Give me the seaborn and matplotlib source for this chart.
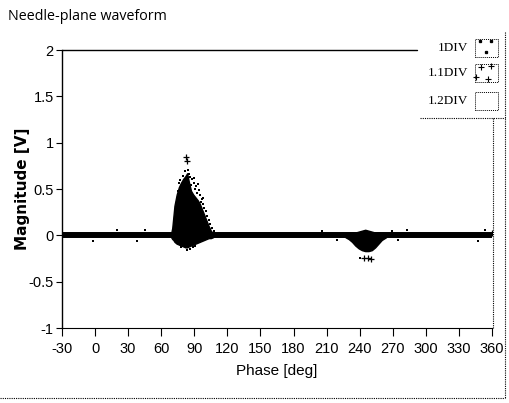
import matplotlib
matplotlib.use("Agg")
import matplotlib.pyplot as plt
import seaborn as sns
import numpy as np
import pandas as pd
from matplotlib.lines import Line2D
from matplotlib.patches import Rectangle

sns.set_theme(style="white")
plt.rcParams['font.family'] = ['Liberation Sans', 'DejaVu Sans']

# ---- data ----
x_ticks = [-30, 0, 30, 60, 90, 120, 150, 180, 210, 240, 270, 300, 330, 360]
y_ticks = [-1, -0.5, 0, 0.5, 1, 1.5, 2]
y_tick_labels = ["-1", "-0.5", "0", "0.5", "1", "1.5", "2"]
series_names = ["1DIV", "1.1DIV", "1.2DIV"]

# baseline (dense band of near-zero samples)
baseline_phase = [-30, 360]
baseline_mag = [0.0, 0.0]

# positive discharge cloud envelope (dense core)
cloud1_phase = [69, 70, 71, 72, 74, 76, 78, 80, 82, 83.5, 85, 87, 89, 91, 93, 95, 97, 99, 101, 103, 105, 107]
cloud1_upper = [0.02, 0.08, 0.2, 0.32, 0.44, 0.52, 0.57, 0.61, 0.64, 0.67, 0.58, 0.48, 0.44, 0.41, 0.38, 0.34, 0.28, 0.22, 0.16, 0.10, 0.05, 0.02]
cloud1_lower = [-0.02, -0.04, -0.05, -0.07, -0.09, -0.10, -0.11, -0.12, -0.13, -0.13, -0.12, -0.11, -0.10, -0.09, -0.08, -0.07, -0.06, -0.05, -0.04, -0.03, -0.03, -0.02]

# negative discharge cloud envelope
cloud2_phase = [227, 230, 233, 236, 239, 242, 245, 248, 251, 254, 257, 260, 264]
cloud2_upper = [0.02, 0.03, 0.03, 0.03, 0.04, 0.05, 0.06, 0.05, 0.04, 0.03, 0.03, 0.03, 0.02]
cloud2_lower = [-0.02, -0.04, -0.07, -0.11, -0.14, -0.16, -0.17, -0.17, -0.16, -0.13, -0.09, -0.05, -0.02]

# sparse dots (1DIV)
dots_phase = [86.5, 88.2, 87.1, 89.6, 90.8, 91.9, 92.7, 94.1, 95.3, 93.4, 96.6, 97.8, 99.2, 100.4,
              101.7, 103.1, 104.6, 106.2, 108.1, 98.3, 95.9, 89.9, 85.4, 84.2, 81.3, 79.6, 77.4,
              76.1, 74.8, 86.0, 88.8, 78.2, 83.0, 90.2,
              -2, 20, 38, 45, 206, 219, 269, 275, 283, 347, 354, 240]
dots_mag = [0.63, 0.61, 0.54, 0.57, 0.50, 0.53, 0.46, 0.49, 0.43, 0.55, 0.39, 0.34, 0.30, 0.26,
            0.21, 0.17, 0.12, 0.08, 0.05, 0.40, 0.36, 0.62, 0.66, 0.71, 0.69, 0.64, 0.60,
            0.56, 0.48, -0.15, -0.13, -0.13, -0.16, -0.12,
            -0.06, 0.06, -0.06, 0.06, 0.05, -0.05, 0.05, -0.05, 0.06, -0.06, 0.06, -0.24]

# sparse crosses (1.1DIV)
cross_phase = [82.5, 83.0, 244, 247.5, 250, 360]
cross_mag = [0.85, 0.80, -0.24, -0.24, -0.25, 0.02]

# ---- figure ----
fig = plt.figure(figsize=(5.09, 4.03), dpi=100)
ax = fig.add_axes([62/509, 1-328/403, 430/509, 278/403])
ax.set_xlim(-30, 360)
ax.set_ylim(-1, 2)

df_base = pd.DataFrame({"phase": baseline_phase, "mag": baseline_mag})
sns.lineplot(data=df_base, x="phase", y="mag", ax=ax, color="black", lw=4.3, zorder=3)

ax.fill_between(cloud1_phase, cloud1_lower, cloud1_upper, color="black", lw=1.0, edgecolor="black", zorder=4)
ax.fill_between(cloud2_phase, cloud2_lower, cloud2_upper, color="black", lw=1.0, edgecolor="black", zorder=4)

df_dots = pd.DataFrame({"phase": dots_phase, "mag": dots_mag})
sns.scatterplot(data=df_dots, x="phase", y="mag", ax=ax, color="black", marker="s", s=3.5, linewidth=0, zorder=5)
df_cross = pd.DataFrame({"phase": cross_phase, "mag": cross_mag})
sns.scatterplot(data=df_cross, x="phase", y="mag", ax=ax, color="black", marker="+", s=16, linewidth=0.9, zorder=5)

ax.set_xticks(x_ticks)
ax.set_xticklabels([str(t) for t in x_ticks], fontsize=10.5)
ax.set_yticks(y_ticks)
ax.set_yticklabels(y_tick_labels, fontsize=10.5)
ax.tick_params(axis="both", which="both", direction="out", length=4, width=0.8, color="black",
               bottom=True, left=True, pad=2, labelcolor="black")
ax.tick_params(axis="x", length=6, pad=4)
ax.grid(False)
ax.set_xlabel("Phase [deg]", fontsize=11, color="black", labelpad=6)
ax.set_ylabel("Magnitude [V]", fontsize=11, color="black",
              family=["DejaVu Sans"], fontweight="bold")
ax.yaxis.set_label_coords(-0.075, 0.5)

for sp in ["top", "right"]:
    ax.spines[sp].set_visible(False)
ax.spines["left"].set_color("black")
ax.spines["left"].set_linewidth(1.0)
ax.spines["bottom"].set_color("black")
ax.spines["bottom"].set_linewidth(0.8)
ax.spines["bottom"].set_linestyle((0, (1, 1)))

W, H = 509, 403
def fx(p): return p / W
def fy(p): return 1 - p / H

# top solid line
fig.add_artist(Line2D([fx(62), fx(417)], [fy(50), fy(50)], color="black", lw=1.0))
# right dotted border of plot area
fig.add_artist(Line2D([fx(493), fx(493)], [fy(118), fy(328)], color="black", lw=0.8, ls=(0, (1, 1))))
# legend frame
fig.add_artist(Line2D([fx(420), fx(505)], [fy(118), fy(118)], color="black", lw=0.8, ls=(0, (1, 1))))
fig.add_artist(Line2D([fx(505), fx(505)], [fy(32), fy(398)], color="black", lw=0.8, ls=(0, (1, 1))))
fig.add_artist(Line2D([fx(0), fx(505)], [fy(398), fy(398)], color="black", lw=0.8, ls=(0, (1, 1))))

# legend entries
leg_y = [48, 73, 101]
for name, yy in zip(series_names, leg_y):
    fig.text(fx(468), fy(yy), name, ha="right", va="center", fontsize=9.5, color="black",
             family=["Liberation Serif", "DejaVu Serif"])
    fig.add_artist(Rectangle((fx(475), fy(yy + 9)), 23/W, 18/H, transform=fig.transFigure,
                             facecolor="white", edgecolor="black", lw=0.7, ls=(0, (1, 1))))
# legend symbols
fig.add_artist(Line2D([fx(480), fx(486), fx(491)], [fy(41), fy(52), fy(41)], ls="none",
                      marker="s", ms=1.4, color="black", transform=fig.transFigure))
fig.add_artist(Line2D([fx(481), fx(488), fx(476), fx(491)], [fy(67), fy(79), fy(77), fy(66)], ls="none",
                      marker="+", ms=4, mew=0.8, color="black", transform=fig.transFigure))

fig.text(fx(8), fy(17), "Needle-plane waveform", ha="left", va="center", fontsize=10.3,
         family=["Open Sans", "DejaVu Sans"], color="black")

fig.savefig("out.png", dpi=100)
